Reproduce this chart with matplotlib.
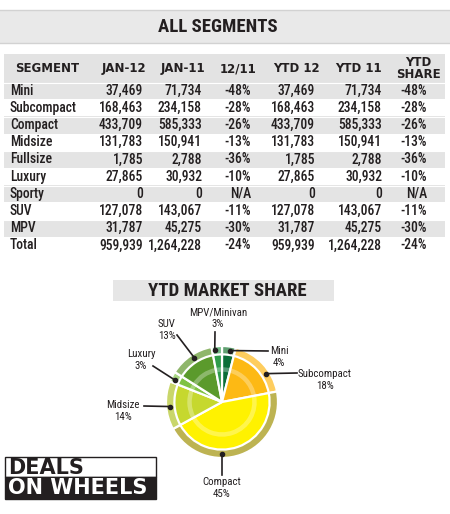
import numpy as np
import matplotlib.pyplot as plt
from matplotlib import font_manager as fm
from matplotlib.patches import Rectangle

# table data
segments = ['Mini', 'Subcompact', 'Compact', 'Midsize', 'Fullsize', 'Luxury',
            'Sporty', 'SUV', 'MPV', 'Total']
jan12 = [37469, 168463, 433709, 131783, 1785, 27865, 0, 127078, 31787, 959939]
jan11 = [71734, 234158, 585333, 150941, 2788, 30932, 0, 143067, 45275, 1264228]
chg_12_11 = ['-48%', '-28%', '-26%', '-13%', '-36%', '-10%', 'N/A', '-11%', '-30%', '-24%']
ytd12 = [37469, 168463, 433709, 131783, 1785, 27865, 0, 127078, 31787, 959939]
ytd11 = [71734, 234158, 585333, 150941, 2788, 30932, 0, 143067, 45275, 1264228]
ytd_share = ['-48%', '-28%', '-26%', '-13%', '-36%', '-10%', 'N/A', '-11%', '-30%', '-24%']
headers = ['SEGMENT', 'JAN-12', 'JAN-11', '12/11', 'YTD 12', 'YTD 11', 'YTD\nSHARE']

# pie data (clockwise from top)
share_labels = ['Mini', 'Subcompact', 'Compact', 'Midsize', 'Luxury', 'SUV', 'MPV/Minivan']
share_values = [4, 18, 45, 14, 3, 13, 3]

base_colors = ['#0b6e38', '#fdb914', '#fff200', '#c6d82e', '#80c243', '#5b9a2c', '#2f9c4a']
ring_colors = ['#5f9f70', '#fecd5e', '#bdb352', '#c9d66a', '#a9d785', '#8fb66b', '#70b982']

W, H = 450, 514
INK = '#231f20'
WIDE = ['DejaVu Sans']


def pick_narrow():
    # look for a condensed sans face, else fall back to a plain one set smaller
    names = {f.name for f in fm.fontManager.ttflist}
    for p in ['Liberation Sans Narrow', 'Roboto Condensed', 'Noto Sans Condensed',
              'Open Sans Condensed', 'DejaVu Sans Condensed']:
        if p in names:
            return dict(family=[p, 'DejaVu Sans']), 1.0
    for f in fm.fontManager.ttflist:
        if str(f.stretch) in ('condensed', 'semi-condensed', 'extra-condensed') and \
                f.name in ('DejaVu Sans', 'Liberation Sans', 'Roboto', 'Noto Sans', 'Open Sans'):
            return dict(family=[f.name], fontstretch=f.stretch), 1.0
    return dict(family=['Liberation Sans', 'DejaVu Sans']), 0.88


NARROW, SCALE = pick_narrow()

fig = plt.figure(figsize=(4.5, 5.14), dpi=100)
fig.patch.set_facecolor('white')

# pie axes (pixel centre 222,402, radius 56)
pc_x, pc_y, pr = 222, 402, 56
span = 1.25 * pr
axp = fig.add_axes([(pc_x - span) / W, (H - pc_y - span) / H, 2 * span / W, 2 * span / H])
axp.pie(share_values, colors=base_colors, startangle=90, counterclock=False, radius=1,
        wedgeprops=dict(edgecolor='white', linewidth=1.6))
axp.pie(share_values, colors=ring_colors, startangle=90, counterclock=False, radius=1,
        wedgeprops=dict(width=0.15, edgecolor='white', linewidth=1.6))
axp.pie(share_values, colors=['white'] * len(share_values), startangle=90, counterclock=False,
        radius=0.62, wedgeprops=dict(width=0.08, alpha=0.3, linewidth=0))
axp.set_xlim(-1.25, 1.25)
axp.set_ylim(-1.25, 1.25)
axp.axis('off')

# main axes in pixel coordinates, on top
ax = fig.add_axes([0, 0, 1, 1])
ax.set_xlim(0, W)
ax.set_ylim(H, 0)
ax.axis('off')
ax.set_zorder(3)
ax.patch.set_visible(False)

title_size = 13.5 if SCALE == 1.0 else 11.5

# title band
ax.add_patch(Rectangle((0, 10), W, 33, fc='#e9e9e9', ec='none'))
ax.plot([0, W], [10, 10], color='#d2d2d2', lw=1)
ax.plot([0, W], [43, 43], color='#d2d2d2', lw=1)
ax.text(218, 27, 'ALL SEGMENTS', ha='center', va='center', fontsize=title_size,
        fontweight='heavy', color=INK, **NARROW)

# table
tx0, tx1 = 4, 445
ax.add_patch(Rectangle((tx0, 54), tx1 - tx0, 28, fc='#e3e3e3', ec='none'))
head_x = [47, 124, 183, 238, 296, 358, 418]
for hx, h in zip(head_x, headers):
    ax.text(hx, 68.5, h, ha='center', va='center', fontsize=8.5, fontweight='bold',
            family=WIDE, color=INK, linespacing=0.95)

row_top, row_h = 82, 17.2
right_x = [143, 202, 251, 315, 382, 427]
body_size = 9.8 * SCALE
for i, seg in enumerate(segments):
    y0 = row_top + i * row_h
    if i % 2 == 0:
        ax.add_patch(Rectangle((tx0, y0), tx1 - tx0, row_h, fc='#e4e4e4', ec='none'))
        ax.plot([tx0, tx1], [y0 + 0.5, y0 + 0.5], color='white', lw=0.8)
    yc = y0 + row_h / 2
    cells = [f'{jan12[i]:,}', f'{jan11[i]:,}', chg_12_11[i],
             f'{ytd12[i]:,}', f'{ytd11[i]:,}', ytd_share[i]]
    ax.text(10, yc, seg, ha='left', va='center', fontsize=body_size, fontweight='medium',
            color=INK, **NARROW)
    for rx, c in zip(right_x, cells):
        ax.text(rx, yc, c, ha='right', va='center', fontsize=body_size, fontweight='medium',
                color=INK, **NARROW)

# market share band
ax.add_patch(Rectangle((113, 280), 221, 21, fc='#e6e6e6', ec='none'))
ax.text(227, 291, 'YTD MARKET SHARE', ha='center', va='center', fontsize=title_size,
        fontweight='heavy', color=INK, **NARROW)

# leader lines and labels
dot_angles = [81, 33, -90, 185, 155, 122, 98]
line_ends = [(268, 351), (297, 373), (222, 475), (144, 406), (153, 366), (177, 335), (215, 332)]
label_pos = [(279, 357), (325, 380), (222, 488), (123, 411), (141, 360), (167, 330), (218, 318)]
for lab, val, ang, le, lp in zip(share_labels, share_values, dot_angles, line_ends, label_pos):
    dx = pc_x + 0.93 * pr * np.cos(np.radians(ang))
    dy = pc_y - 0.93 * pr * np.sin(np.radians(ang))
    ax.plot([dx, le[0]], [dy, le[1]], color=INK, lw=1.2)
    ax.plot(dx, dy, 'o', color=INK, ms=3)
    ax.text(lp[0], lp[1], f'{lab}\n{val}%', ha='center', va='center', fontsize=7.8 * SCALE,
            color=INK, linespacing=1.15, **NARROW)

# logo
ax.add_patch(Rectangle((5, 457), 151, 20, fc='white', ec=INK, lw=1))
ax.add_patch(Rectangle((5, 477), 151, 22, fc=INK, ec=INK, lw=1))
ax.text(8, 467.5, 'DEALS', ha='left', va='center', fontsize=15, fontweight='bold',
        family=WIDE, color=INK)
ax.text(8, 488.5, 'ON WHEELS', ha='left', va='center', fontsize=15, fontweight='bold',
        family=WIDE, color='white')

fig.savefig('out.png', dpi=100)
